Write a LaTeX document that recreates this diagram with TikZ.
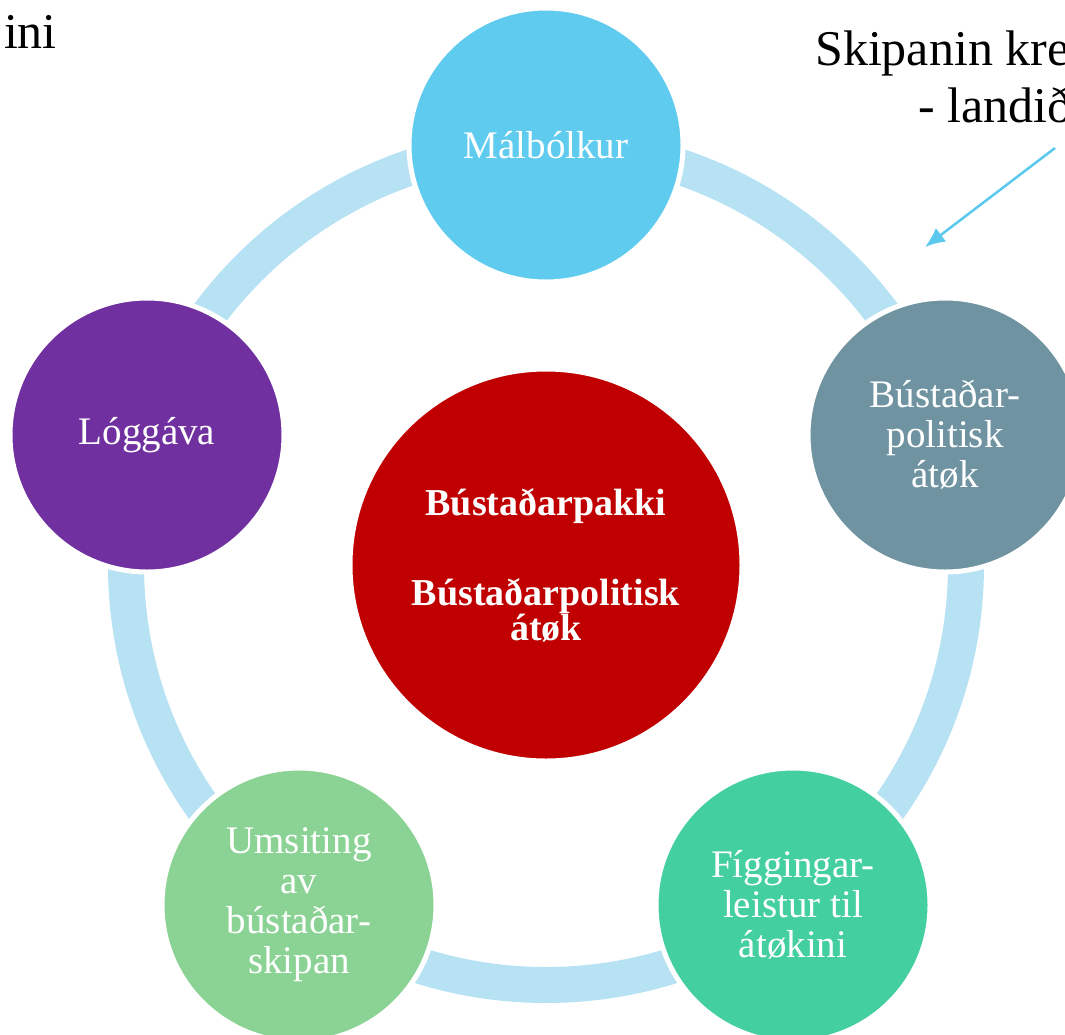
\documentclass[tikz,border=0pt]{standalone}
\usepackage{fontspec}
\setmainfont{Liberation Serif}
\usepackage{xcolor}
\usetikzlibrary{arrows.meta}
\definecolor{ringblue}{HTML}{B7E2F4}
\definecolor{skyblue}{HTML}{5FCBEF}
\definecolor{arrowblue}{HTML}{5BC8EE}
\definecolor{slateblue}{HTML}{6F93A0}
\definecolor{teal}{HTML}{44CFA1}
\definecolor{leafgreen}{HTML}{8BD394}
\definecolor{plum}{HTML}{7030A0}
\definecolor{darkred}{HTML}{C00000}

\begin{document}
\begin{tikzpicture}[x=1pt,y=-1pt,
	disc/.style={circle,draw=white,line width=5pt,minimum size=274pt,inner sep=0pt,
		text=white,align=center,font=\fontsize{39}{40}\selectfont},
	note/.style={anchor=base west,inner sep=0pt,font=\fontsize{50}{60}\selectfont}]
%             (M)
%          /       \
%     (L)     (P)     (B)
%        \           /
%         (U) ----- (F)

	\useasboundingbox (0,0) rectangle (1065,1034);
	\clip (0,0) rectangle (1065,1034);

	\coordinate (O) at (546,565);
	\coordinate (M) at (546,145);
	\coordinate (B) at (945,435);
	\coordinate (F) at (793,905);
	\coordinate (U) at (299,905);
	\coordinate (L) at (147,435);

	\draw[ringblue,line width=36pt] (O) circle (420);

	\node[disc,fill=skyblue] (mal) at (M) {Málbólkur};
	\node[disc,fill=slateblue] (bust) at (B) {Bústaðar-\\politisk\\átøk};
	\node[disc,fill=teal] (figg) at (F) {Fíggingar-\\leistur til\\átøkini};
	\node[disc,fill=leafgreen] (umsit) at (U) {Umsiting\\av\\bústaðar-\\skipan};
	\node[disc,fill=plum] (log) at (L) {Lóggáva};
	\node[disc,fill=darkred,minimum size=392pt,font=\fontsize{38}{35}\bfseries\selectfont]
		(pakki) at (O) {Bústaðarpakki\\[54pt]Bústaðarpolitisk\\átøk};

	\node[note,anchor=base east] (ini) at (57,48) {ini};
	\node[note] (skip) at (815,65) {Skipanin kre};
	\node[note] (land) at (918,122) {- landið};

	\coordinate (arrA) at (1055,148);
	\coordinate (arrB) at (925,247);
	\draw[arrowblue,line width=2.5pt,-{Latex[length=20pt,width=17pt]}] (arrA)--(arrB);

\end{tikzpicture}
\end{document}
